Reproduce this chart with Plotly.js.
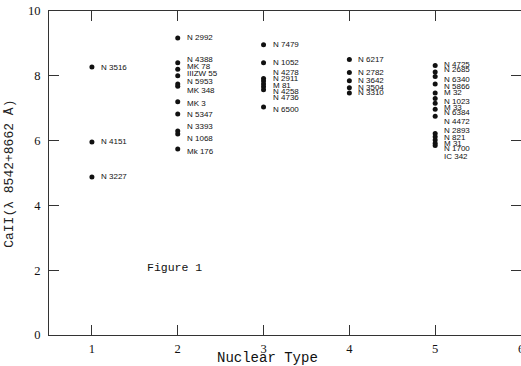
<!DOCTYPE html>
<html>
<head>
<meta charset="utf-8">
<script src="https://cdn.plot.ly/plotly-3.0.1.min.js"></script>
<style>html,body{margin:0;padding:0;background:#fff;}#chart{width:521px;height:366px;}</style>
</head>
<body>
<div id="chart"></div>
<script>
// ---- data ----
const type1Names = ["N 3516", "N 4151", "N 3227"];
const type1Values = [8.27, 5.96, 4.88];

const type2Names = ["N 2992", "N 4388", "MK 78", "IIIZW 55", "N 5953", "MK 348", "MK 3", "N 5347", "N 3393", "N 1068", "Mk 176"];
const type2Values = [9.17, 8.40, 8.20, 8.00, 7.75, 7.68, 7.20, 6.82, 6.30, 6.20, 5.74];

const type3Names = ["N 7479", "N 1052", "N 4278", "N 2911", "M 81", "N 4258", "N 4736", "N 6500"];
const type3Values = [8.96, 8.40, 7.92, 7.84, 7.75, 7.66, 7.57, 7.04];

const type4Names = ["N 6217", "N 2782", "N 3642", "N 3504", "N 3310"];
const type4Values = [8.50, 8.10, 7.85, 7.63, 7.47];

const type5Names = ["N 4725", "N 2685", "N 6340", "N 5866", "M 32", "N 1023", "M 33", "N 6384", "N 4472", "N 2893", "N 821", "M 31", "N 1700", "IC 342"];
const type5Values = [8.32, 8.12, 7.98, 7.75, 7.47, 7.30, 7.15, 6.97, 6.75, 6.22, 6.12, 6.02, 5.92, 5.85];

const xTickVals = [1, 2, 3, 4, 5, 6];
const yTickVals = [0, 2, 4, 6, 8, 10];

// ---- label placement (pixel nudges, downward positive) ----
const labelNudge = {
  "N 4388": -3, "MK 78": -3, "IIIZW 55": -2, "N 5953": -2, "MK 348": 4, "MK 3": 2,
  "N 3393": -4, "N 1068": 4, "Mk 176": 2,
  "N 4278": -6, "N 2911": -2, "M 81": 2, "N 4258": 5, "N 4736": 8, "N 6500": 3,
  "N 4725": -1, "N 2685": -2, "N 6340": 3, "N 5866": 3, "N 1023": 3, "M 33": 4,
  "N 6384": 3, "N 4472": 5, "N 2893": -3, "N 821": 1, "M 31": 4, "N 1700": 5, "IC 342": 11
};

const groups = [
  [1, type1Names, type1Values],
  [2, type2Names, type2Values],
  [3, type3Names, type3Values],
  [4, type4Names, type4Values],
  [5, type5Names, type5Values]
];

const traces = [];
const annotations = [];
groups.forEach(([t, names, vals]) => {
  traces.push({
    type: 'scatter', mode: 'markers',
    x: vals.map(() => t), y: vals,
    marker: {color: '#111', size: 5},
    hoverinfo: 'skip', showlegend: false
  });
  names.forEach((n, i) => {
    annotations.push({
      x: t, y: vals[i], xref: 'x', yref: 'y',
      text: n, showarrow: false, xanchor: 'left', yanchor: 'middle',
      xshift: 7, yshift: -(labelNudge[n] || 0),
      font: {family: 'Liberation Sans, Arial, sans-serif', size: 8, color: '#111'}
    });
  });
});

annotations.push({
  xref: 'paper', yref: 'paper', x: 0.462, y: -0.072, xanchor: 'center', yanchor: 'middle',
  text: 'Nuclear Type', showarrow: false,
  font: {family: 'Liberation Mono, Courier New, monospace', size: 14, color: '#111'}
});
annotations.push({
  xref: 'paper', yref: 'paper', x: -0.083, y: 0.497, xanchor: 'center', yanchor: 'middle',
  text: 'CaII(λ 8542+8662 Å)', textangle: -90, showarrow: false,
  font: {family: 'Liberation Mono, Courier New, monospace', size: 13, color: '#222'}
});
annotations.push({
  x: 1.62, y: 2.07, xref: 'x', yref: 'y', xanchor: 'left', yanchor: 'middle',
  text: 'Figure 1', showarrow: false,
  font: {family: 'Liberation Mono, Courier New, monospace', size: 11.5, color: '#111'}
});

const axisCommon = {
  showgrid: false, zeroline: false, showline: true, linecolor: '#333', linewidth: 1,
  mirror: 'ticks', ticks: 'inside', ticklen: 10, tickcolor: '#333', tickwidth: 1,
  ticklabeloverflow: 'allow',
  tickfont: {family: 'Liberation Serif, Times New Roman, serif', size: 12.5, color: '#111'}
};

const layout = {
  width: 521, height: 366,
  margin: {l: 49, r: 0, t: 11, b: 31, pad: 0},
  paper_bgcolor: '#fff', plot_bgcolor: '#fff',
  xaxis: Object.assign({}, axisCommon, {range: [0.5, 6], tickvals: xTickVals, ticklabelstandoff: 2}),
  yaxis: Object.assign({}, axisCommon, {range: [0, 10], tickvals: yTickVals, ticklabelstandoff: 5}),
  annotations: annotations,
  showlegend: false
};

Plotly.newPlot('chart', traces, layout, {staticPlot: true, displayModeBar: false});
</script>
</body>
</html>
